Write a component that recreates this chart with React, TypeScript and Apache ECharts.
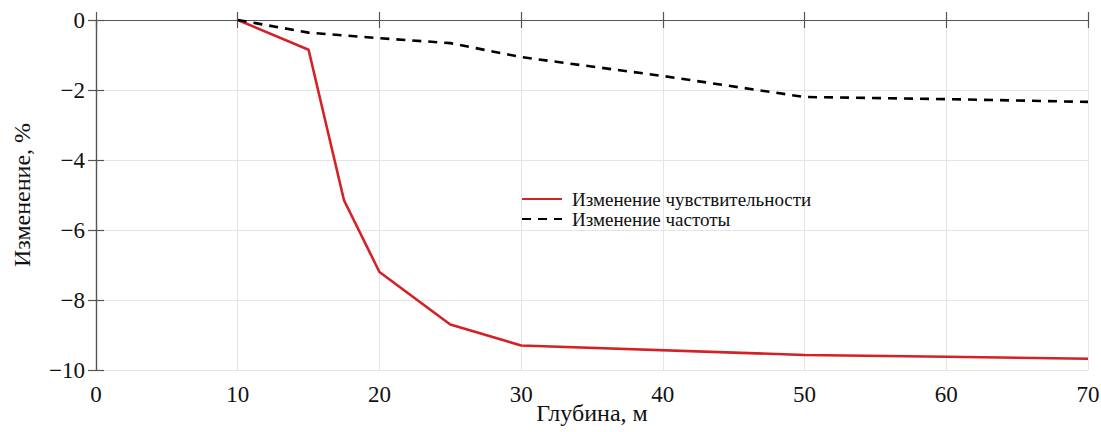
import React, { useEffect, useRef } from "react";
import * as echarts from "echarts";

const depth = [10, 15, 17.5, 20, 25, 30, 50, 60, 70];
const sensitivity = [0, -0.85, -5.15, -7.2, -8.7, -9.3, -9.57, -9.62, -9.68];
const depthFreq = [10, 15, 20, 25, 30, 40, 50, 60, 70];
const frequency = [0, -0.36, -0.52, -0.66, -1.06, -1.6, -2.2, -2.26, -2.34];

const seriesNames = ["Изменение чувствительности", "Изменение частоты"];
const xTitle = "Глубина, м";
const yTitle = "Изменение, %";

const FONT = "Liberation Serif";

export default function App() {
  const ref = useRef<HTMLDivElement>(null);
  useEffect(() => {
    if (!ref.current) return;
    const chart = echarts.init(ref.current, undefined, { renderer: "svg" });
    const fmt = (v: number) => String(v).replace("-", "\u2212");
    const axisLine = { show: true, lineStyle: { color: "#555", width: 1.2 } };
    const tick = { show: true, inside: true, length: 8, lineStyle: { color: "#555", width: 1.2 } };
    chart.setOption({
      animation: false,
      backgroundColor: "#fff",
      textStyle: { fontFamily: FONT },
      grid: { left: 96, right: 13, top: 20, bottom: 62, containLabel: false, outerBoundsMode: "none" },
      legend: {
        orient: "vertical",
        left: 516,
        top: 184,
        itemWidth: 40,
        itemHeight: 14,
        itemGap: 0,
        itemStyle: { opacity: 0 },
        textStyle: { fontFamily: FONT, fontSize: 19, lineHeight: 20, color: "#111", padding: [0, 0, 0, 5] },
        data: seriesNames,
      },
      xAxis: [
        {
          type: "value",
          min: 0,
          max: 70,
          interval: 10,
          position: "bottom",
          name: xTitle,
          nameLocation: "middle",
          nameGap: 31,
          nameMoveOverlap: false,
          nameTextStyle: { fontFamily: FONT, fontSize: 24, color: "#111" },
          axisLine,
          axisTick: tick,
          axisLabel: { fontFamily: FONT, fontSize: 23, color: "#111", margin: 13 },
          splitLine: { show: true, lineStyle: { color: "#e4e4e4", width: 1 } },
        },
        {
          type: "value",
          min: 0,
          max: 70,
          interval: 10,
          position: "top",
          axisLine,
          axisTick: tick,
          axisLabel: { show: false },
          splitLine: { show: false },
        },
      ],
      yAxis: [
        {
          type: "value",
          min: -10,
          max: 0,
          interval: 2,
          position: "left",
          name: yTitle,
          nameLocation: "middle",
          nameGap: 62,
          nameMoveOverlap: false,
          nameRotate: 90,
          nameTextStyle: { fontFamily: FONT, fontSize: 24, color: "#111" },
          axisLine,
          axisTick: tick,
          axisLabel: { fontFamily: FONT, fontSize: 23, color: "#111", margin: 11, formatter: fmt },
          splitLine: { show: true, lineStyle: { color: "#e4e4e4", width: 1 } },
        },
        {
          type: "value",
          min: -10,
          max: 0,
          interval: 2,
          position: "right",
          axisLine,
          axisTick: tick,
          axisLabel: { show: false },
          splitLine: { show: false },
        },
      ],
      series: [
        {
          name: seriesNames[0],
          type: "line",
          data: depth.map((d, i) => [d, sensitivity[i]]),
          showSymbol: false,
          symbol: "none",
          lineStyle: { color: "#d42126", width: 2.6 },
          itemStyle: { color: "#d42126" },
        },
        {
          name: seriesNames[1],
          type: "line",
          data: depthFreq.map((d, i) => [d, frequency[i]]),
          showSymbol: false,
          symbol: "none",
          lineStyle: { color: "#000", width: 2.6, type: [9, 7] },
          itemStyle: { color: "#000" },
        },
      ],
    });
    return () => chart.dispose();
  }, []);
  return (
    <div
      ref={ref}
      style={{ position: "fixed", left: 0, top: 0, width: 1101, height: 432 }}
    />
  );
}
